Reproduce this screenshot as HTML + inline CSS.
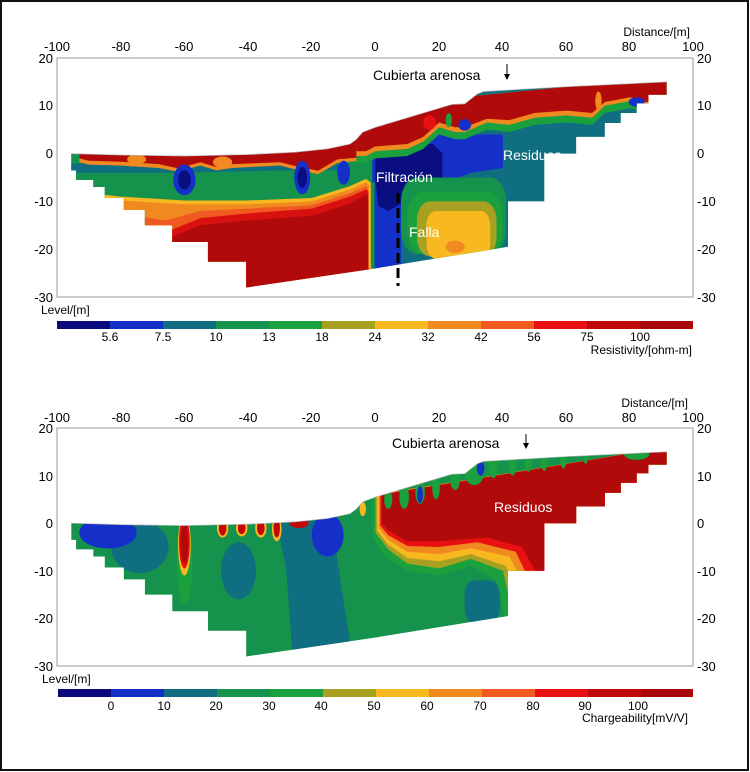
<!DOCTYPE html>
<html><head><meta charset="utf-8"><style>
html,body{margin:0;padding:0;background:#fff}
svg{display:block}
text{font-family:"Liberation Sans",Arial,sans-serif}
</style></head><body>
<svg width="750" height="772" viewBox="0 0 750 772" xmlns="http://www.w3.org/2000/svg">
<defs>
<clipPath id="sec"><polygon id="secp" points="-95.5,0 -80,-0.3 -60,-0.5 -40,-0.2 -25,0.3 -15,1 -8,2 -6,3 -4,4.5 0,5.5 10,7.5 20,9.5 24,10.3 28,10.4 32,12.5 34,13 60,14 91.4,15 91.4,12.3 85.7,12.3 85.7,10.5 82,10.5 82,8.5 77,8.5 77,6.4 72,6.4 72,3.5 63,3.5 63,0 53,0 53,-6 53,-10 41.6,-10 41.6,-19.5 0,-24 -40.6,-28 -40.6,-22.6 -52.6,-22.6 -52.6,-18.5 -63.8,-18.5 -63.8,-15 -72.4,-15 -72.4,-11.8 -79,-11.8 -79,-9.3 -85,-9.3 -85,-7 -88.6,-7 -88.6,-5.5 -94,-5.5 -94,-3.5 -95.5,-3.5"/></clipPath>
</defs>
<rect x="1" y="1" width="747" height="769" fill="#fff" stroke="#111" stroke-width="2"/>

<!-- ============ TOP PANEL ============ -->
<g transform="translate(375.5,153.6) scale(3.185,-4.78)">
<g clip-path="url(#sec)">
<rect x="-100" y="-30" width="200" height="50" fill="#0f6e80"/>
<polygon fill="#15924c" points="-100,1 0,1 0,-30 -100,-30"/>
<polygon fill="#f8b820" points="-100,-7.5 -80,-9 -60,-9.8 -40,-9.8 -20,-9.3 -8,-6.8 -3,-5.3 -1,-6.3 -1,-30 -100,-30"/>
<polygon fill="#f08a20" points="-100,-8.3 -80,-9.8 -60,-10.6 -40,-10.6 -20,-10 -8,-7.5 -3,-6 -1.5,-7 -1.5,-30 -100,-30"/>
<polygon fill="#f05a20" points="-100,-12 -80,-12.5 -66,-14 -55,-12 -40,-11.5 -20,-10.8 -8,-8.3 -3,-6.8 -2,-7.5 -2,-30 -100,-30"/>
<polygon fill="#d81010" points="-100,-14 -80,-15 -66,-16.5 -55,-13.5 -40,-12.5 -20,-11.5 -8,-9 -3,-7.5 -2,-8 -2,-30 -100,-30"/>
<polygon fill="#b00a0a" points="-100,-16 -66,-18 -55,-15 -40,-14 -20,-13 -8,-10.5 -3,-8.5 -2.2,-9 -2.2,-30 -100,-30"/>
<polygon fill="#0f6e80" points="-100,-2 -60,-2.5 -30,-2 -10,-1 -10,-3.5 -30,-3.5 -60,-4 -100,-4"/>
<polygon fill="#f08a20" points="-93,1 -5,3 -5,-1.5 -12,-2 -18,-4.3 -24,-3.5 -30,-2.5 -45,-3 -50,-3.5 -55,-2.5 -62,-3.8 -68,-3 -80,-2.5 -90,-2.3 -93,-1.8"/>
<polygon fill="#b00a0a" points="-93,1 -5,3 -5,-0.8 -12,-1.2 -18,-3.6 -24,-2.8 -30,-1.8 -45,-2.2 -50,-2.8 -55,-1.8 -62,-3.1 -68,-2.2 -80,-1.7 -90,-1.5 -93,-1"/>
<ellipse cx="-75" cy="-1.2" rx="3" ry="1" fill="#f08a20"/>
<ellipse cx="-48" cy="-1.8" rx="3" ry="1.2" fill="#f08a20"/>
<ellipse cx="-60" cy="-5.5" rx="3.5" ry="3.2" fill="#1530c8"/>
<ellipse cx="-60" cy="-5.5" rx="2" ry="2" fill="#0a0e80"/>
<ellipse cx="-23" cy="-5" rx="2.5" ry="3.5" fill="#1530c8"/>
<ellipse cx="-23" cy="-5" rx="1.5" ry="2.2" fill="#0a0e80"/>
<ellipse cx="-10" cy="-4" rx="2" ry="2.5" fill="#1530c8"/>
<polygon fill="#1530c8" points="-1,2 18,4 30,4 40,4 40,-3 30,-4 22,-6 14,-8 8,-12 8,-24 -1,-24"/>
<polygon fill="#0a0e80" points="0,2 18,2 21,0 21,-5 12,-9 4,-12 1,-11 0,-6"/>
<polygon fill="#15924c" points="-1.5,-6 -0.3,-6 -0.3,-24 -1.5,-24"/>
<polygon fill="#f8b820" points="-2.2,-7 -1.5,-7 -1.5,-24 -2.2,-24"/>
<rect x="8" y="-21" width="33" height="16" rx="5" fill="#15924c"/>
<rect x="10" y="-21" width="30" height="13" rx="5" fill="#1aa03c"/>
<rect x="13" y="-21.5" width="25" height="11.5" rx="4" fill="#a8a020"/>
<rect x="16" y="-22" width="20" height="10" rx="3" fill="#f8b820"/>
<ellipse cx="25" cy="-19.5" rx="3" ry="1.3" fill="#f08a20"/>
<polygon fill="#1aa03c" points="-6,5 30,12 92,16 92,9 85,8.5 80,9.5 72,8.5 68,6 60,6.5 50,6 42,4.5 35,5 28,3 25,3 20,4 15,1 10,-0.5 0,-1 -3,-2 -6,-2"/>
<polygon fill="#f08a20" points="-6,5 30,12 92,16 92,10.5 85,10 80,11 72,10 68,7.5 60,8 50,7.5 42,6 35,6.5 28,4.5 25,4.5 20,5.5 15,2.5 10,1 0,0.5 -3,-0.5 -6,-0.5"/>
<polygon fill="#b00a0a" points="-6,5 30,12 92,16 92,11.3 85,10.8 80,11.8 72,10.8 68,8.5 60,9 50,8.5 42,7 35,7.3 28,5.5 25,5.5 20,6.5 15,3.5 10,2 0,1.5 -3,0.5 -6,0.5"/>
<ellipse cx="17" cy="6.5" rx="2" ry="1.5" fill="#e81010"/>
<ellipse cx="23" cy="7" rx="1" ry="1.5" fill="#1aa03c"/>
<ellipse cx="28" cy="6" rx="2" ry="1.2" fill="#1530c8"/>
<ellipse cx="82" cy="10.8" rx="2.5" ry="1" fill="#1530c8"/>
<ellipse cx="70" cy="11" rx="1" ry="2" fill="#f08a20"/>
</g>
<polyline fill="none" stroke="#bbb" stroke-width="0.15" points="-95.5,0 -80,-0.3 -60,-0.5 -40,-0.2 -25,0.3 -15,1 -8,2 -6,3 -4,4.5 0,5.5 10,7.5 20,9.5 24,10.3 28,10.4 32,12.5 34,13 60,14 91.4,15"/>
</g>
<line x1="398" y1="193" x2="398" y2="286" stroke="#000" stroke-width="3" stroke-dasharray="10,5"/>
<rect x="57" y="58" width="636" height="239" fill="none" stroke="#999" stroke-width="1"/>
<g font-size="13" fill="#000" text-anchor="middle">
<text x="57" y="51">-100</text><text x="121" y="51">-80</text><text x="184" y="51">-60</text><text x="248" y="51">-40</text><text x="311" y="51">-20</text><text x="375" y="51">0</text><text x="439" y="51">20</text><text x="502" y="51">40</text><text x="566" y="51">60</text><text x="629" y="51">80</text><text x="693" y="51">100</text>
</g>
<text x="690" y="36" font-size="12" text-anchor="end">Distance/[m]</text>
<g font-size="13" text-anchor="end"><text x="53" y="63">20</text><text x="53" y="110">10</text><text x="53" y="158">0</text><text x="53" y="206">-10</text><text x="53" y="254">-20</text><text x="53" y="302">-30</text></g>
<g font-size="13"><text x="697" y="63">20</text><text x="697" y="110">10</text><text x="697" y="158">0</text><text x="697" y="206">-10</text><text x="697" y="254">-20</text><text x="697" y="302">-30</text></g>
<text x="41" y="314" font-size="12">Level/[m]</text>
<text x="373" y="80" font-size="14">Cubierta arenosa</text>
<line x1="507" y1="64" x2="507" y2="78" stroke="#000" stroke-width="1"/><path d="M504,74 L507,80 L510,74" fill="#000"/>
<text x="376" y="182" font-size="14" fill="#fff">Filtración</text>
<text x="503" y="160" font-size="14" fill="#fff">Residuos</text>
<text x="409" y="237" font-size="14" fill="#fff">Falla</text>
<g transform="translate(57,321)">
<rect x="0" width="53" height="8" fill="#0a0a7a"/><rect x="53" width="53" height="8" fill="#1530c8"/><rect x="106" width="53" height="8" fill="#0f6e80"/><rect x="159" width="53" height="8" fill="#15924c"/><rect x="212" width="53" height="8" fill="#1aa03c"/><rect x="265" width="53" height="8" fill="#a8a020"/><rect x="318" width="53" height="8" fill="#f8b820"/><rect x="371" width="53" height="8" fill="#f08a20"/><rect x="424" width="53" height="8" fill="#f05a20"/><rect x="477" width="53" height="8" fill="#e81010"/><rect x="530" width="53" height="8" fill="#c00808"/><rect x="583" width="53" height="8" fill="#a80808"/>
</g>
<g font-size="12" text-anchor="middle"><text x="110" y="341">5.6</text><text x="163" y="341">7.5</text><text x="216" y="341">10</text><text x="269" y="341">13</text><text x="322" y="341">18</text><text x="375" y="341">24</text><text x="428" y="341">32</text><text x="481" y="341">42</text><text x="534" y="341">56</text><text x="587" y="341">75</text><text x="640" y="341">100</text></g>
<text x="692" y="354" font-size="12" text-anchor="end">Resistivity/[ohm-m]</text>

<!-- ============ BOTTOM PANEL ============ -->
<g transform="translate(375.5,523.2) scale(3.185,-4.76)">
<g clip-path="url(#sec)">
<rect x="-100" y="-30" width="200" height="50" fill="#15924c"/>
<polygon fill="#0f6e80" points="-31,0 -20,0.5 -14,1 -8,-25 -26,-28 -28,-10"/>
<ellipse cx="-15" cy="-2.5" rx="5" ry="4.5" fill="#1530c8"/>
<ellipse cx="-43" cy="-10" rx="5.5" ry="6" fill="#0f6e80"/>
<ellipse cx="-74" cy="-5" rx="9" ry="5.5" fill="#0f6e80"/>
<ellipse cx="-84" cy="-2" rx="9" ry="3.3" fill="#1530c8"/>
<ellipse cx="-60" cy="-8" rx="2.5" ry="9" fill="#1aa03c"/>
<ellipse cx="-60" cy="-4.5" rx="2" ry="6.5" fill="#f8b820"/>
<ellipse cx="-60" cy="-4" rx="1.7" ry="5.5" fill="#e81010"/>
<ellipse cx="-60" cy="-4" rx="1.2" ry="4.5" fill="#b00a0a"/>
<ellipse cx="-48" cy="-1" rx="1.8" ry="2" fill="#f8b820"/><ellipse cx="-48" cy="-1" rx="1.2" ry="1.6" fill="#c00808"/>
<ellipse cx="-42" cy="-1" rx="1.8" ry="1.8" fill="#f8b820"/><ellipse cx="-42" cy="-1" rx="1.2" ry="1.3" fill="#c00808"/>
<ellipse cx="-36" cy="-1" rx="1.8" ry="2" fill="#f8b820"/><ellipse cx="-36" cy="-1" rx="1.2" ry="1.5" fill="#c00808"/>
<ellipse cx="-31" cy="-1.3" rx="1.5" ry="2.5" fill="#f8b820"/><ellipse cx="-31" cy="-1" rx="1" ry="2" fill="#c00808"/>
<ellipse cx="-24" cy="0" rx="3" ry="1" fill="#c00808"/>
<polygon fill="#1aa03c" points="-1,6 92,16 92,-30 41,-30 41,-21 38,-12 30,-9 20,-11 10,-10 3,-7 -1,-3"/>
<polygon fill="#a8a020" points="0,6 92,16 92,-30 43,-30 43,-19 40,-10 30,-7.5 20,-9.5 10,-8.5 4,-5.5 0,-2"/>
<polygon fill="#f8b820" points="0.5,6 92,16 92,-30 44,-30 44,-14 41,-9 30,-6.5 20,-8 10,-7.3 4,-4.5 0.5,-1.5"/>
<polygon fill="#f08a20" points="1,6 92,16 92,-30 46,-30 46,-12 42,-7 30,-5.3 20,-6.5 10,-6 4,-3.5 1,-1"/>
<polygon fill="#e81010" points="1.5,6 92,16 92,-30 48,-30 48,-11.5 44,-6 32,-4 20,-5 10,-4.8 4,-2.5 1.5,-0.5"/>
<polygon fill="#b00a0a" points="2,6 92,16 92,-30 51,-30 51,-11 46,-5 35,-3 20,-3.8 10,-3.8 4,-1.5 2,0"/>
<rect x="28" y="-21" width="11" height="9" rx="3" fill="#0f6e80"/>
<g fill="#1aa03c">
<ellipse cx="4" cy="5" rx="1.3" ry="2"/><ellipse cx="9" cy="5.5" rx="1.5" ry="2.5"/><ellipse cx="14" cy="6.5" rx="1.5" ry="2.5"/><ellipse cx="19" cy="7.5" rx="1.2" ry="2.5"/><ellipse cx="25" cy="9" rx="1.5" ry="2"/><ellipse cx="31" cy="10.5" rx="3" ry="2.5"/><ellipse cx="37" cy="12" rx="1.5" ry="2.5"/><ellipse cx="43" cy="12.5" rx="1.2" ry="2.5"/><ellipse cx="48" cy="12.8" rx="1.2" ry="2"/><ellipse cx="53" cy="13" rx="1" ry="2"/><ellipse cx="59" cy="13.5" rx="1" ry="2"/><ellipse cx="66" cy="14" rx="0.8" ry="1.5"/><ellipse cx="82" cy="14.5" rx="4" ry="1.2"/>
</g>
<ellipse cx="14" cy="6" rx="0.9" ry="1.8" fill="#1530c8"/>
<ellipse cx="33" cy="11.5" rx="1.2" ry="1.5" fill="#1530c8"/>
<ellipse cx="-4" cy="3" rx="1" ry="1.5" fill="#f8b820"/>
</g>
<polyline fill="none" stroke="#bbb" stroke-width="0.15" points="-95.5,0 -80,-0.3 -60,-0.5 -40,-0.2 -25,0.3 -15,1 -8,2 -6,3 -4,4.5 0,5.5 10,7.5 20,9.5 24,10.3 28,10.4 32,12.5 34,13 60,14 91.4,15"/>
</g>
<rect x="57" y="428" width="636" height="238" fill="none" stroke="#999" stroke-width="1"/>
<g font-size="13" fill="#000" text-anchor="middle">
<text x="57" y="422">-100</text><text x="121" y="422">-80</text><text x="184" y="422">-60</text><text x="248" y="422">-40</text><text x="311" y="422">-20</text><text x="375" y="422">0</text><text x="439" y="422">20</text><text x="502" y="422">40</text><text x="566" y="422">60</text><text x="629" y="422">80</text><text x="693" y="422">100</text>
</g>
<text x="688" y="407" font-size="12" text-anchor="end">Distance/[m]</text>
<g font-size="13" text-anchor="end"><text x="53" y="433">20</text><text x="53" y="481">10</text><text x="53" y="528">0</text><text x="53" y="576">-10</text><text x="53" y="623">-20</text><text x="53" y="671">-30</text></g>
<g font-size="13"><text x="697" y="433">20</text><text x="697" y="481">10</text><text x="697" y="528">0</text><text x="697" y="576">-10</text><text x="697" y="623">-20</text><text x="697" y="671">-30</text></g>
<text x="42" y="683" font-size="12">Level/[m]</text>
<text x="392" y="448" font-size="14">Cubierta arenosa</text>
<line x1="526" y1="434" x2="526" y2="447" stroke="#000" stroke-width="1"/><path d="M523,443 L526,449 L529,443" fill="#000"/>
<text x="494" y="512" font-size="14" fill="#fff">Residuos</text>
<g transform="translate(58,689)">
<rect x="0" width="53" height="8" fill="#0a0a7a"/><rect x="53" width="53" height="8" fill="#1530c8"/><rect x="106" width="53" height="8" fill="#0f6e80"/><rect x="159" width="53" height="8" fill="#15924c"/><rect x="212" width="53" height="8" fill="#1aa03c"/><rect x="265" width="53" height="8" fill="#a8a020"/><rect x="318" width="53" height="8" fill="#f8b820"/><rect x="371" width="53" height="8" fill="#f08a20"/><rect x="424" width="53" height="8" fill="#f05a20"/><rect x="477" width="53" height="8" fill="#e81010"/><rect x="530" width="53" height="8" fill="#c00808"/><rect x="583" width="52" height="8" fill="#a80808"/>
</g>
<g font-size="12" text-anchor="middle"><text x="111" y="710">0</text><text x="164" y="710">10</text><text x="216" y="710">20</text><text x="269" y="710">30</text><text x="321" y="710">40</text><text x="374" y="710">50</text><text x="427" y="710">60</text><text x="480" y="710">70</text><text x="533" y="710">80</text><text x="585" y="710">90</text><text x="638" y="710">100</text></g>
<text x="688" y="722" font-size="12" text-anchor="end">Chargeability[mV/V]</text>
</svg>
</body></html>
